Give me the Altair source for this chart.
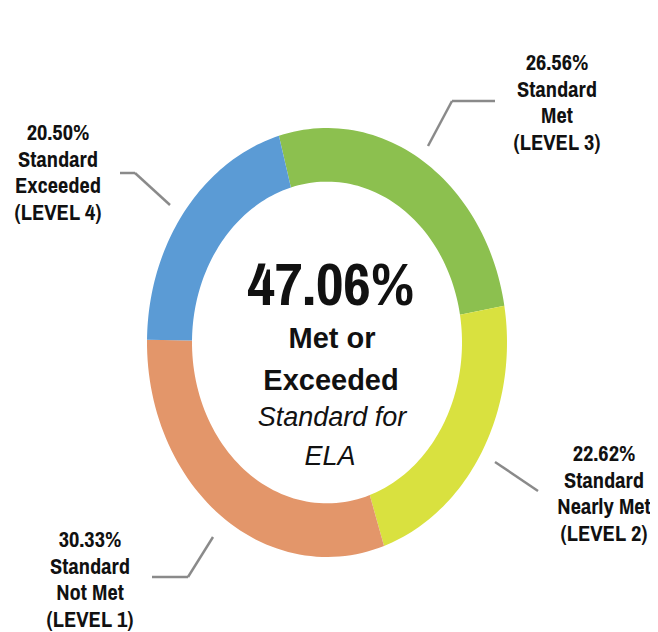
import altair as alt
import pandas as pd

# ---------------- data ----------------
levels = ["LEVEL 3", "LEVEL 2", "LEVEL 1", "LEVEL 4"]          # clockwise order
names = ["Standard\nMet", "Standard\nNearly Met", "Standard\nNot Met", "Standard\nExceeded"]
values = [26.56, 22.62, 30.33, 20.50]
colors = ["#8cc04f", "#d9e13f", "#e3966a", "#5b9bd5"]
subject = "ELA"

met_or_exceeded = values[levels.index("LEVEL 3")] + values[levels.index("LEVEL 4")]

# ---------------- layout (pixels inside the view) ----------------
W, H = 642, 624
CX, CY, RX, RY, K = 319, 334.5, 180, 214.5, 0.75
OFFSET = -0.2705          # radians, start of first slice (clockwise from 12 o'clock)
N = 60                    # points per arc edge

label_pos = {             # level -> (x centre, first baseline)
    "LEVEL 3": (549, 62),
    "LEVEL 2": (596, 453),
    "LEVEL 1": (82, 539),
    "LEVEL 4": (50, 132),
}
leaders = [               # x, y, x2, y2
    (420, 138, 444, 93), (444, 93, 487, 93),
    (112, 165, 127, 165), (127, 165, 162, 197),
    (487, 454, 530, 483),
    (205, 529, 180, 569), (180, 569, 144, 569),
]

NARROW = "Archivo Narrow, Roboto Condensed, Liberation Sans, sans-serif"
REG = "Liberation Sans, Arial, Helvetica, sans-serif"

xs = alt.Scale(domain=[0, W], nice=False, zero=False)
ys = alt.Scale(domain=[0, H], nice=False, zero=False, reverse=True)

df = pd.DataFrame({"level": levels, "value": values, "seq": list(range(len(levels)))})

donut = (
    alt.Chart(df)
    .transform_joinaggregate(total="sum(value)")
    .transform_window(cum="sum(value)", sort=[alt.SortField("seq")], frame=[None, 0])
    .transform_calculate(
        a0=f"{OFFSET} + 2*PI*(datum.cum - datum.value)/datum.total",
        a1=f"{OFFSET} + 2*PI*datum.cum/datum.total",
        pts=f"sequence(0, {2 * N + 2})",
    )
    .transform_flatten(["pts"])
    .transform_calculate(
        frac=f"datum.pts <= {N} ? datum.pts/{N} : ({2 * N + 1} - datum.pts)/{N}",
        rr=f"datum.pts <= {N} ? 1 : {K}",
    )
    .transform_calculate(ang="datum.a0 + (datum.a1 - datum.a0)*datum.frac")
    .transform_calculate(
        px=f"{CX} + {RX}*datum.rr*sin(datum.ang)",
        py=f"{CY} - {RY}*datum.rr*cos(datum.ang)",
    )
    .mark_line(strokeWidth=0, interpolate="linear")
    .encode(
        x=alt.X("px:Q", scale=xs, axis=None),
        y=alt.Y("py:Q", scale=ys, axis=None),
        fill=alt.Fill("level:N", scale=alt.Scale(domain=levels, range=colors), legend=None),
        detail="level:N",
        order="pts:Q",
    )
)

lines_df = pd.DataFrame(leaders, columns=["x", "y", "x2", "y2"])
lines = (
    alt.Chart(lines_df)
    .mark_rule(color="#8a8a8a", strokeWidth=2.5)
    .encode(
        x=alt.X("x:Q", scale=xs, axis=None),
        y=alt.Y("y:Q", scale=ys, axis=None),
        x2="x2:Q",
        y2="y2:Q",
    )
)

lab_df = pd.DataFrame({
    "text": [f"{v:.2f}%\n{n}\n({l})" for v, n, l in zip(values, names, levels)],
    "x": [label_pos[l][0] for l in levels],
    "y": [label_pos[l][1] for l in levels],
})
labels = (
    alt.Chart(lab_df)
    .mark_text(font=NARROW, fontWeight="bold", fontSize=22.5, lineHeight=26.6,
               align="center", baseline="alphabetic", lineBreak="\n", color="#111111")
    .encode(
        x=alt.X("x:Q", scale=xs, axis=None),
        y=alt.Y("y:Q", scale=ys, axis=None),
        text="text:N",
    )
)


def center_text(txt, x, y, font, size, weight="bold", style="normal"):
    return (
        alt.Chart(pd.DataFrame({"t": [txt]}))
        .mark_text(font=font, fontSize=size, fontWeight=weight, fontStyle=style,
                   align="center", baseline="alphabetic", color="#111111")
        .encode(x=alt.value(x), y=alt.value(y), text="t:N")
    )


big = center_text(f"{met_or_exceeded:.2f}%", 323, 297, NARROW, 60)
t1 = center_text("Met or", 324, 340, REG, 29)
t2 = center_text("Exceeded", 323, 382, REG, 29)
t3 = center_text("Standard for", 324, 418, REG, 27, weight="normal", style="italic")
t4 = center_text(subject, 322, 457, REG, 27, weight="normal", style="italic")

chart = (
    alt.layer(donut, lines, labels, big, t1, t2, t3, t4)
    .properties(width=W, height=H, padding=0, autosize=alt.AutoSizeParams(type="none"),
                background="white")
    .configure_view(stroke=None)
)

chart.save("out.html", embed_options={"renderer": "svg", "actions": False})
